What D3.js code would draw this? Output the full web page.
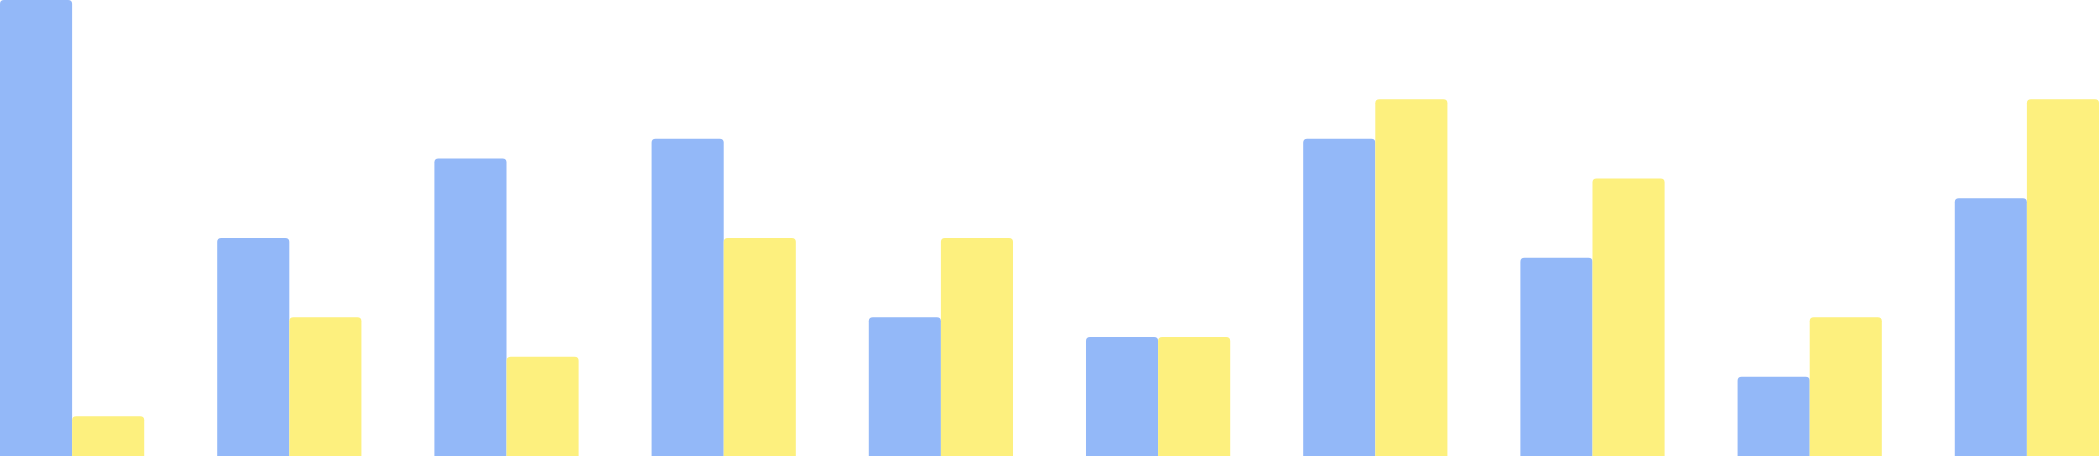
<!DOCTYPE html>
<html>
<head>
<meta charset="utf-8">
<script src="https://cdn.jsdelivr.net/npm/d3@7/dist/d3.min.js"></script>
<style>
  html, body { margin: 0; padding: 0; background: #ffffff; overflow: hidden; }
  svg { display: block; }
</style>
</head>
<body>
<script>
const categories = ["G1","G2","G3","G4","G5","G6","G7","G8","G9","G10"];
const seriesNames = ["blue","yellow"];
const blueValues = [23, 11, 15, 16, 7, 6, 16, 10, 4, 13];
const yellowValues = [2, 7, 5, 11, 11, 6, 18, 14, 7, 18];
const yMax = 23;

const W = 2099, H = 456;
const colors = { blue: "#93b8f8", yellow: "#fdf07e" };

const svg = d3.select("body").append("svg").attr("width", W).attr("height", H);

const x0 = d3.scaleBand().domain(categories).range([0, W]).paddingInner(0.336).paddingOuter(0);
const x1 = d3.scaleBand().domain(seriesNames).range([0, x0.bandwidth()]).padding(0);
const y = d3.scaleLinear().domain([0, yMax]).range([H, 0]);

const rows = categories.map((c, i) => ({ cat: c, blue: blueValues[i], yellow: yellowValues[i] }));

function topRounded(x, yTop, w, h, r) {
  r = Math.min(r, w / 2, h);
  return `M${x},${yTop + h}V${yTop + r}Q${x},${yTop} ${x + r},${yTop}H${x + w - r}Q${x + w},${yTop} ${x + w},${yTop + r}V${yTop + h}Z`;
}

const g = svg.selectAll("g.grp").data(rows).join("g")
  .attr("class", "grp")
  .attr("transform", d => `translate(${x0(d.cat)},0)`);

g.selectAll("path").data(d => seriesNames.map(k => ({ key: k, value: d[k] }))).join("path")
  .attr("fill", d => colors[d.key])
  .attr("d", d => topRounded(x1(d.key), y(d.value), x1.bandwidth(), H - y(d.value), 4));
</script>
</body>
</html>
